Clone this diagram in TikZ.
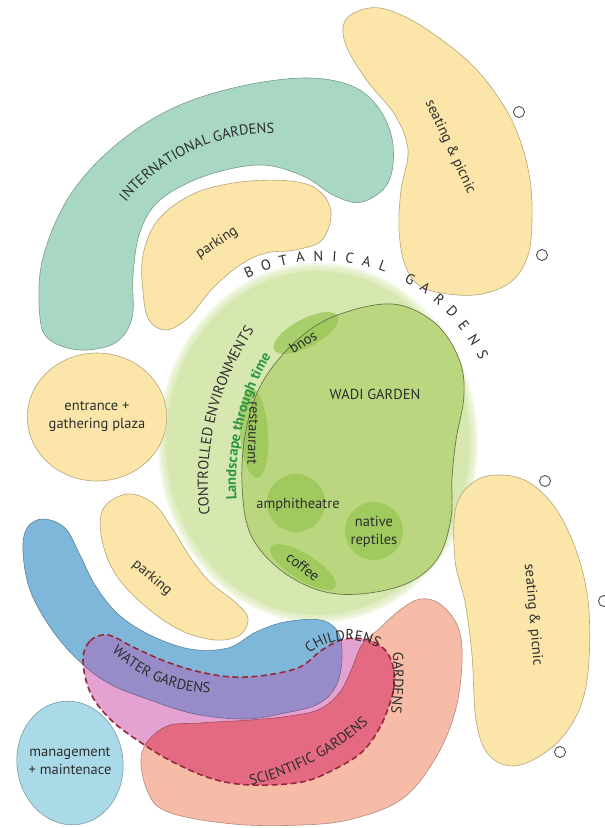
\documentclass[tikz,border=0pt]{standalone}
\usepackage{fontspec}
\setmainfont{PT Sans}
\usetikzlibrary{shapes.geometric, decorations.text}

\definecolor{ink}{RGB}{45,45,45}
\definecolor{tealzone}{RGB}{168,215,196}
\definecolor{sand}{RGB}{252,229,168}
\definecolor{botanic}{RGB}{214,232,176}
\definecolor{wadi}{RGB}{186,215,128}
\definecolor{spotgreen}{RGB}{150,196,80}
\definecolor{waterblue}{RGB}{126,183,217}
\definecolor{waterviolet}{RGB}{152,140,200}
\definecolor{kidspink}{RGB}{228,162,210}
\definecolor{scired}{RGB}{228,106,130}
\definecolor{salmon}{RGB}{247,188,168}
\definecolor{mgmtblue}{RGB}{170,217,232}
\definecolor{dashred}{RGB}{150,40,55}
\definecolor{leafgreen}{RGB}{45,150,70}

\newcommand{\zonefont}{\fontsize{14.5}{18}\selectfont}

\begin{document}
\begin{tikzpicture}[
    x=1pt, y=-1pt,
    zone/.style={draw=#1!72!black, line width=0.6pt, fill=#1},
    lbl/.style={font=\zonefont, text=ink, align=center, inner sep=1pt},
    spot/.style={fill=spotgreen, opacity=0.7},
    ring/.style={draw=ink!85, circle, line width=0.9pt, minimum size=11pt, inner sep=0pt},
    curved/.style={decorate, decoration={text along path, text align=center, text color=ink, text={|\zonefont|#1}}},
    leafcurve/.style={decorate, decoration={text along path, text align=center, text color=leafgreen, text={|\zonefont\bfseries|#1}}},
    kidsline/.style={draw=dashred, line width=1.6pt, dash pattern=on 6pt off 3.5pt}
]
    \useasboundingbox (0,0) rectangle (605,828);

    % --- Botanical gardens (centre) ---
    \foreach \r in {8,6,4,2}
        \fill[botanic, opacity=0.3] (318,443) ellipse [x radius=152+\r, y radius=172+\r];
    \fill[botanic] (318,443) ellipse [x radius=152, y radius=172];

    \fill[wadi] plot[smooth cycle, tension=0.6] coordinates {(262,383) (295,342) (335,316) (392,304) (435,323) (459,359) (464,395) (456,440) (452,478) (451,518) (438,558) (408,583) (360,594) (318,590) (278,568) (250,533) (242,483) (246,430)};
    \fill[spot, rotate around={28:(306,333)}] (306,333) ellipse [x radius=36, y radius=14];
    \fill[spot, rotate around={4:(254,433)}] (254,433) ellipse [x radius=14, y radius=45];
    \fill[spot] (296,503) circle [radius=29];
    \fill[spot] (374,531) circle [radius=29];
    \fill[spot, rotate around={-32:(303,567)}] (303,567) ellipse [x radius=38, y radius=13];
    \draw[draw=wadi!55!black, line width=0.7pt] plot[smooth cycle, tension=0.6] coordinates {(262,383) (295,342) (335,316) (392,304) (435,323) (459,359) (464,395) (456,440) (452,478) (451,518) (438,558) (408,583) (360,594) (318,590) (278,568) (250,533) (242,483) (246,430)};

    % --- International gardens, parking, seating ---
    \draw[zone=tealzone] plot[smooth cycle, tension=0.6] coordinates {(40,318) (42,262) (67,200) (110,150) (167,111) (233,88) (303,78) (352,86) (380,110) (393,145) (388,183) (362,202) (335,196) (303,176) (260,165) (205,176) (160,200) (140,232) (133,275) (132,318) (115,343) (80,350) (50,340)};
    \draw[zone=sand] plot[smooth cycle, tension=0.6] coordinates {(143,255) (158,220) (193,194) (240,182) (290,181) (318,190) (331,212) (322,240) (295,250) (266,253) (240,265) (212,289) (188,318) (166,330) (149,320) (143,292)};
    \draw[zone=sand] plot[smooth cycle, tension=0.6] coordinates {(352,14) (380,8) (420,25) (470,63) (502,103) (520,140) (530,180) (532,220) (528,255) (512,281) (482,294) (448,294) (420,286) (405,265) (399,230) (401,190) (408,150) (395,115) (368,82) (348,50) (343,28)};
    \node[lbl, ellipse, zone=sand, minimum width=134pt, minimum height=128pt] (entrance) at (97,417) {entrance +\\gathering plaza};
    \draw[zone=sand] plot[smooth cycle, tension=0.6] coordinates {(103,509) (127,494) (153,503) (172,528) (190,557) (210,582) (235,602) (248,618) (240,635) (215,640) (180,630) (145,606) (116,575) (102,540)};
    \draw[zone=sand] plot[smooth cycle, tension=0.6] coordinates {(456,507) (475,481) (502,475) (530,483) (556,509) (576,550) (588,600) (589,660) (582,702) (565,734) (540,756) (512,766) (488,754) (476,720) (472,655) (465,602) (455,560)};

    % --- Children's gardens ---
    \draw[zone=salmon] plot[smooth cycle, tension=0.6] coordinates {(142,752) (147,790) (168,812) (233,824) (302,825) (352,819) (402,799) (435,759) (455,712) (462,662) (458,627) (440,604) (420,599) (400,610) (380,628) (362,645) (352,668) (340,692) (320,709) (290,716) (250,720) (200,723) (165,727)};
    \draw[zone=waterblue] plot[smooth cycle, tension=0.6] coordinates {(43,519) (65,528) (80,555) (95,585) (118,614) (150,635) (190,649) (228,648) (256,632) (285,622) (320,620) (338,632) (342,658) (336,686) (318,704) (285,713) (245,719) (195,714) (150,700) (108,683) (76,658) (50,627) (30,590) (23,552) (27,528)};
    \begin{scope}
        \clip plot[smooth cycle, tension=0.6] coordinates {(83,660) (90,641) (108,635) (135,648) (167,662) (200,672) (233,677) (267,675) (300,667) (322,650) (345,639) (369,640) (385,650) (393,666) (394,686) (389,706) (379,729) (362,752) (335,769) (302,782) (252,785) (213,779) (173,762) (140,742) (110,719) (90,692)};
        \fill[kidspink] (60,600) rectangle (420,800);
        \draw[zone=waterviolet] plot[smooth cycle, tension=0.6] coordinates {(43,519) (65,528) (80,555) (95,585) (118,614) (150,635) (190,649) (228,648) (256,632) (285,622) (320,620) (338,632) (342,658) (336,686) (318,704) (285,713) (245,719) (195,714) (150,700) (108,683) (76,658) (50,627) (30,590) (23,552) (27,528)};
        \draw[zone=scired] plot[smooth cycle, tension=0.6] coordinates {(142,752) (147,790) (168,812) (233,824) (302,825) (352,819) (402,799) (435,759) (455,712) (462,662) (458,627) (440,604) (420,599) (400,610) (380,628) (362,645) (352,668) (340,692) (320,709) (290,716) (250,720) (200,723) (165,727)};
    \end{scope}
    \draw[kidsline] plot[smooth cycle, tension=0.6] coordinates {(83,660) (90,641) (108,635) (135,648) (167,662) (200,672) (233,677) (267,675) (300,667) (322,650) (345,639) (369,640) (385,650) (393,666) (394,686) (389,706) (379,729) (362,752) (335,769) (302,782) (252,785) (213,779) (173,762) (140,742) (110,719) (90,692)};

    % --- Management ---
    \draw[zone=mgmtblue, rotate around={8:(70,763)}] (70,763) ellipse [x radius=53, y radius=62];

    % --- Markers ---
    \node[ring] (o1) at (519,112) {};
    \node[ring] (o2) at (542,255) {};
    \node[ring] (o3) at (545,481) {};
    \node[ring] (o4) at (604,601) {};
    \node[ring] (o5) at (560,752) {};

    % --- Labels ---
    \path[curved={INTERNATIONAL GARDENS}] ([shift={(-150:191)}]273,324) arc[start angle=-150, end angle=-80, radius=191];
    \path[decorate, decoration={text along path, text align={fit to path}, text color=ink, text={|\zonefont|BOTANICAL GARDENS}}] ([shift={(-116:173)}]323,434) arc[start angle=-116, end angle=-25, radius=173];
    \path[curved={CONTROLLED ENVIRONMENTS}] ([shift={(160:275)}]483,483) arc[start angle=160, end angle=227, radius=275];
    \path[leafcurve={Landscape through time}] ([shift={(160:247)}]483,483) arc[start angle=160, end angle=227, radius=247];
    \path[curved={WATER GARDENS}] ([shift={(148:146)}]214,547) arc[start angle=148, end angle=78, radius=146];
    \path[curved={SCIENTIFIC GARDENS}] ([shift={(85:276)}]184,518) arc[start angle=85, end angle=39, radius=276];
    \path[curved={CHILDRENS}] ([shift={(-150:60)}]348,700) arc[start angle=-150, end angle=-40, radius=60];
    \path[curved={GARDENS}] (390,625) .. controls (395,660) and (395,705) .. (386,740);

    \node[lbl, rotate=-65] (seat1) at (450,147) {seating \& picnic};
    \node[lbl, rotate=33] (park1) at (217,243) {parking};
    \node[lbl] (wadilbl) at (375,394) {WADI GARDEN};
    \node[lbl, rotate=212] (souq) at (303,342) {souq};
    \node[lbl, rotate=-92] (restaurant) at (253,433) {restaurant};
    \node[lbl] (amphi) at (298,505) {amphitheatre};
    \node[lbl] (reptiles) at (374,532) {native\\reptiles};
    \node[lbl, rotate=-38] (coffee) at (303,567) {coffee};
    \node[lbl, rotate=-40] (park2) at (152,578) {parking};
    \node[lbl, rotate=-85] (seat2) at (533,615) {seating \& picnic};
    \node[lbl] (mgmt) at (70,761) {management\\+ maintenace};
\end{tikzpicture}
\end{document}
